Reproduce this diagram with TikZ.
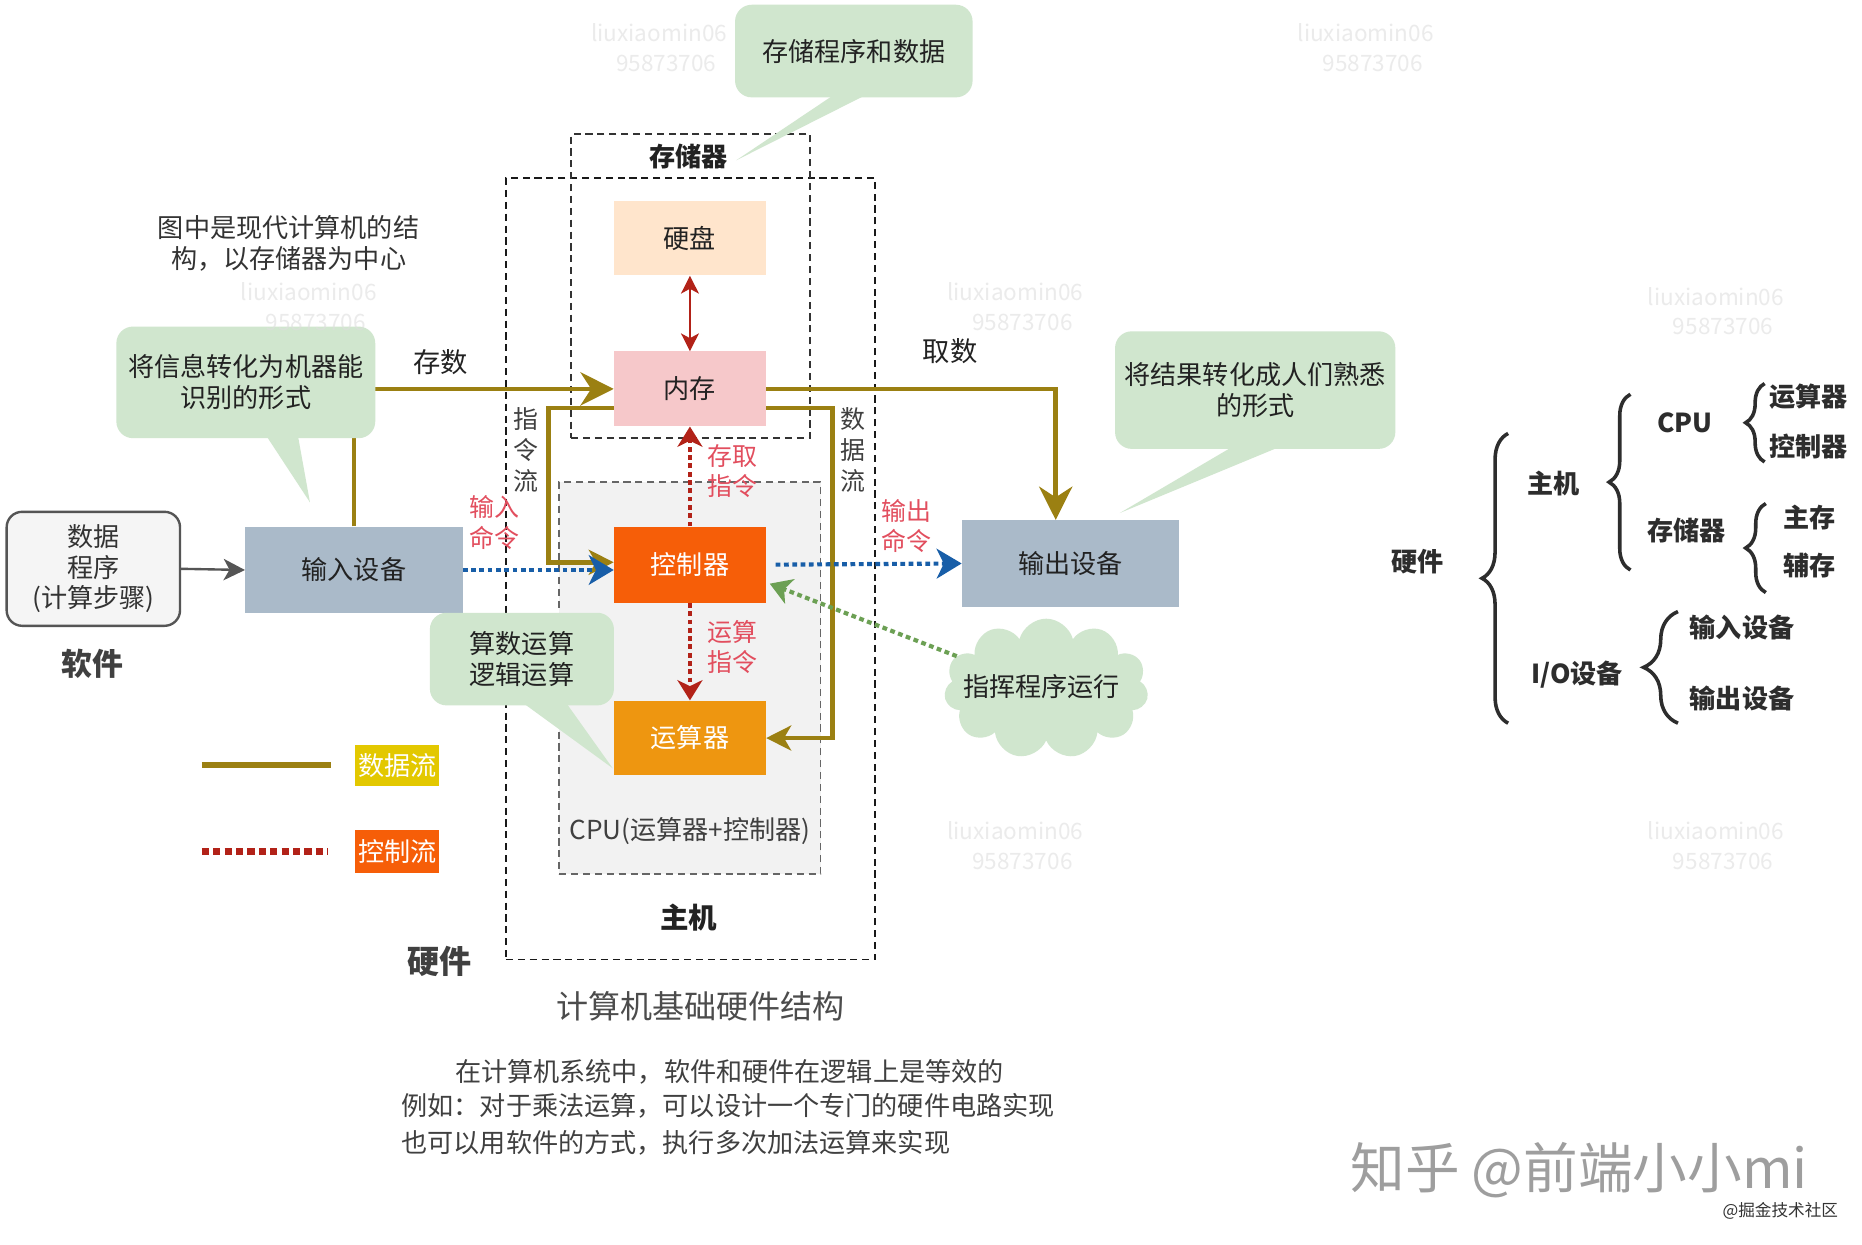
\documentclass[tikz,border=0pt]{standalone}
\usepackage{fontspec}
\setmainfont{Noto Sans CJK SC}
\usetikzlibrary{arrows.meta,calc,shapes.symbols,decorations.pathreplacing}
\newcommand{\myfs}[2]{\fontsize{#1}{#2}\selectfont}
\definecolor{cOlive}{RGB}{155,128,18}
\definecolor{cRed}{RGB}{178,34,24}
\definecolor{cLbl}{RGB}{226,78,94}
\definecolor{cBlue}{RGB}{24,94,168}
\definecolor{cGreen}{RGB}{108,160,84}
\definecolor{cDisk}{RGB}{255,229,204}
\definecolor{cMem}{RGB}{246,200,202}
\definecolor{cCtl}{RGB}{246,94,8}
\definecolor{cAlu}{RGB}{238,150,16}
\definecolor{cIO}{RGB}{170,186,201}
\definecolor{cNote}{RGB}{208,230,206}
\definecolor{cLegY}{RGB}{227,200,0}
\definecolor{cCPU}{RGB}{242,242,242}
\definecolor{cTxt}{RGB}{34,34,34}
\definecolor{cDark}{RGB}{45,45,45}
\definecolor{cGrey}{RGB}{85,85,85}
\tikzset{
  box/.style={rectangle, inner sep=0pt, minimum width=128pt, minimum height=63pt, font=\myfs{22}{26}},
  iobox/.style={rectangle, inner sep=0pt, fill=cIO, minimum width=183pt, minimum height=73pt, font=\myfs{22}{26}, text=cTxt},
  note/.style={rectangle, rounded corners=14pt, fill=cNote, inner sep=0pt, align=center, font=\myfs{22}{26}, text=cTxt},
  lbl/.style={inner sep=0pt, align=center, font=\myfs{21}{25.5}, text=cLbl},
  txt/.style={inner sep=0pt, align=center, font=\myfs{22}{26}, text=cTxt},
  hbox/.style={draw=black!90, line width=1.5pt, dash pattern=on 6pt off 4pt},
  dataflow/.style={draw=cOlive, line width=3.8pt},
  bigtip/.style={-{Stealth[length=28pt,width=28pt,inset=9pt]}},
  smalltip/.style={-{Stealth[length=21pt,width=21pt,inset=6pt]}},
  ctrlflow/.style={draw=cRed, line width=3.5pt, dash pattern=on 4pt off 3pt, -{Stealth[length=17pt,width=21pt,inset=5pt]}},
  cmdflow/.style={draw=cBlue, line width=3.5pt, dash pattern=on 4pt off 3pt, -{Stealth[length=21pt,width=25pt,inset=6pt]}},
  guideflow/.style={draw=cGreen, line width=3.5pt, dash pattern=on 4pt off 3pt, -{Stealth[length=18pt,width=22pt,inset=5pt]}},
  tbrace/.style={draw=cDark, line width=3pt, decorate, decoration={brace, amplitude=#1}},
  tree/.style={inner sep=0pt, font=\bfseries\myfs{22}{26}, text=cDark},
  wm/.style={inner sep=0pt, align=center, font=\myfs{19}{25}, text=black!13, opacity=0.6},
}
\begin{document}
\begin{tikzpicture}[x=1pt, y=-1pt]
\useasboundingbox (0,0) rectangle (1568,1048);
\fill[white] (0,0) rectangle (1568,1048);

% containers
\node[rectangle, fill=cCPU, draw=black!60, line width=1.5pt, dash pattern=on 6pt off 4pt, minimum width=220pt, minimum height=330pt, inner sep=0pt] (cpubox) at (581,571) {};
\node[hbox, rectangle, minimum width=311pt, minimum height=658pt, inner sep=0pt] (hostbox) at (581.5,479) {};
\node[rectangle, draw=black!80, line width=1.5pt, dash pattern=on 6pt off 4pt, minimum width=201pt, minimum height=256pt, inner sep=0pt] (membox) at (581.5,241) {};

% boxes
\node[box, fill=cDisk, text=cTxt] (disk) at (581,200.5) {硬盘};
\node[box, fill=cMem, text=cTxt] (mem) at (581,327.5) {内存};
\node[box, fill=cCtl, text=white, minimum height=64pt] (ctl) at (581,475.5) {控制器};
\node[box, fill=cAlu, text=white] (alu) at (581,621.5) {运算器};
\node[iobox] (inp) at (298,480) {输入设备};
\node[iobox] (out) at (901.5,474.5) {输出设备};
\node[rectangle, rounded corners=13pt, fill=black!4, draw=cGrey, line width=2pt, minimum width=146pt, minimum height=96pt, inner sep=0pt, align=center, font=\myfs{22}{25.5}, text=black!80] (sw) at (78.6,479) {数据\\程序\\(计算步骤)};
\coordinate (outtop) at ($(out.north)+(-12.5,0)$);

% labels
\node[inner sep=0pt, font=\bfseries\myfs{22}{26}, text=cTxt] (memlbl) at (580,132) {存储器};
\node[inner sep=0pt, font=\myfs{22}{26}, text=black!75] (cpulbl) at (581,700) {CPU(运算器+控制器)};
\node[inner sep=0pt, font=\bfseries\myfs{24}{28}, text=cTxt] (hostlbl) at (580,773) {主机};
\node[inner sep=0pt, font=\bfseries\myfs{27}{30}, text=black!75] (hwlbl) at (370,810) {硬件};
\node[inner sep=0pt, font=\bfseries\myfs{26}{30}, text=black!75] (swlbl) at (78,559) {软件};
\node[txt, text=black!80] (intro) at (243,205) {图中是现代计算机的结\\构，以存储器为中心};
\node[txt, font=\myfs{23}{26}] (cunshu) at (371,305) {存数};
\node[txt, font=\myfs{23}{26}] (qushu) at (800,296) {取数};
\node[txt, font=\myfs{21}{26}, text=black!75] (zlliu) at (443,379) {指\\令\\流};
\node[txt, font=\myfs{21}{26}, text=black!75] (sjliu) at (718,379) {数\\据\\流};
\node[lbl] (incmd) at (416,440) {输入\\命令};
\node[lbl] (outcmd) at (763,443) {输出\\命令};
\node[lbl] (rwcmd) at (617,397) {存取\\指令};
\node[lbl] (alucmd) at (617,545) {运算\\指令};

% flows
\draw[dataflow, bigtip] (inp.north) |- (mem.west);
\draw[dataflow, bigtip] (mem.east) -| (outtop);
\draw[dataflow, smalltip] ($(mem.west)+(0,16)$) -| ($(ctl.west)+(-55,-2)$) -- ($(ctl.west)+(0,-2)$);
\draw[dataflow, smalltip] ($(mem.east)+(0,16)$) -| ($(alu.east)+(56,0)$) -- (alu.east);
\draw[draw=cRed, line width=2pt, {Stealth[length=15pt,width=15pt,inset=4pt]}-{Stealth[length=15pt,width=15pt,inset=4pt]}] (disk.south) -- (mem.north);
\draw[ctrlflow] (ctl.north) -- (mem.south);
\draw[ctrlflow] (ctl.south) -- (alu.north);
\draw[cmdflow] (inp.east) -- (inp.east -| ctl.west);
\draw[cmdflow] ($(ctl.east)+(8,0)$) -- (out.west);
\draw[draw=cGrey, line width=2pt, -{Stealth[length=18pt,width=18pt,inset=5pt]}] (sw.east) -- (inp.west);

% cloud
\node[cloud, cloud puffs=11, cloud ignores aspect, fill=cNote, minimum width=172pt, minimum height=118pt, inner sep=0pt] (cloud) at (881,580) {};
\node[txt] (cloudtxt) at (877,578) {指挥程序运行};
\draw[guideflow] (cloud.160) -- ($(ctl.east)+(3,16)$);

% callouts
\node[note, minimum width=218pt, minimum height=94pt] (noteA) at (207,322) {将信息转化为机器能\\识别的形式};
\fill[cNote] (221,362) -- (261,423) -- (250,362) -- cycle;
\node[note, minimum width=236pt, minimum height=99pt] (noteB) at (1057,328.5) {将结果转化成人们熟悉\\的形式};
\fill[cNote] (1045,372) -- (943,432) -- (1088,372) -- cycle;
\node[note, minimum width=155pt, minimum height=78pt] (noteC) at (439.5,555) {算数运算\\逻辑运算};
\fill[cNote] (435,588) -- (516,647) -- (474,588) -- cycle;
\node[note, minimum width=200pt, minimum height=78pt] (noteD) at (719,43) {存储程序和数据};
\fill[cNote] (708,76) -- (620,135) -- (737,76) -- cycle;

% legend
\coordinate (lgA) at (170,644); \coordinate (lgB) at (279,644);
\coordinate (lgC) at (170,717); \coordinate (lgD) at (276,717);
\draw[draw=cOlive, line width=5pt] (lgA) -- (lgB);
\draw[draw=cRed, line width=5.5pt, dash pattern=on 6pt off 3.6pt] (lgC) -- (lgD);
\node[rectangle, fill=cLegY, minimum width=71pt, minimum height=35pt, inner sep=0pt, text=white, font=\myfs{22}{26}] (legdata) at (334.5,644.5) {数据流};
\node[rectangle, fill=cCtl, minimum width=71pt, minimum height=36pt, inner sep=0pt, text=white, font=\myfs{22}{26}] (legctrl) at (334.5,717) {控制流};

% bottom texts
\node[inner sep=0pt, font=\myfs{27}{30}, text=black!70] (title) at (590,847) {计算机基础硬件结构};
\node[anchor=west, inner sep=0pt, font=\myfs{22}{26}, text=black!75] (p1) at (383,903) {在计算机系统中，软件和硬件在逻辑上是等效的};
\node[anchor=west, inner sep=0pt, font=\myfs{22}{26}, text=black!75] (p2) at (338,931) {例如：对于乘法运算，可以设计一个专门的硬件电路实现};
\node[anchor=west, inner sep=0pt, font=\myfs{22}{26}, text=black!75] (p3) at (338,962) {也可以用软件的方式，执行多次加法运算来实现};

% right tree
\node[tree] (t0) at (1194,473) {硬件};
\draw[tbrace=22pt] (1270,609) -- (1270,365);
\node[tree] (t1) at (1308,407) {主机};
\node[tree] (t2) at (1328,568) {I/O设备};
\draw[tbrace=18pt] (1373,480) -- (1373,332);
\node[tree] (t11) at (1419,356) {CPU};
\node[tree] (t12) at (1420,447) {存储器};
\draw[tbrace=16pt] (1486,389) -- (1486,323);
\node[tree] (t111) at (1523,334) {运算器};
\node[tree] (t112) at (1523,376) {控制器};
\draw[tbrace=17pt] (1487,499) -- (1487,424);
\node[tree] (t121) at (1524,436) {主存};
\node[tree] (t122) at (1524,476) {辅存};
\draw[tbrace=29pt] (1413,609) -- (1413,515);
\node[tree] (t21) at (1467,528) {输入设备};
\node[tree] (t22) at (1467,588) {输出设备};

% watermarks
\foreach \x/\y [count=\i] in {555/40,1150/40,260/258,855/258,1445/262,855/712,1445/712}
  \node[wm] (wm\i) at (\x,\y) {liuxiaomin06\\\hspace*{12pt}95873706};
\node[anchor=west, inner sep=0pt, font=\myfs{46}{50}, text=black!38] (zh) at (1137,985) {知乎 @前端小小mi};
\node[anchor=east, inner sep=0pt, font=\myfs{14}{16}, text=black!80] (jj) at (1548,1020) {@掘金技术社区};
\end{tikzpicture}
\end{document}
